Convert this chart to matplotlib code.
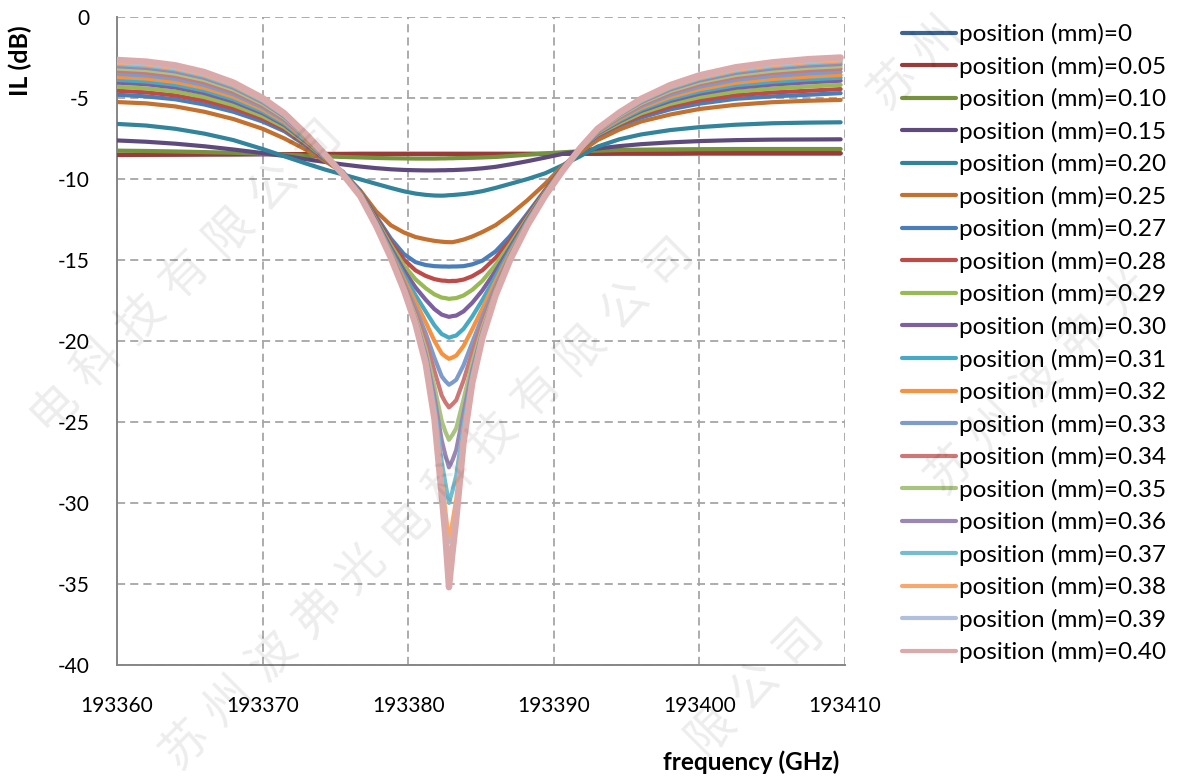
import matplotlib
matplotlib.use('Agg')
import matplotlib.pyplot as plt
from matplotlib.lines import Line2D

plt.rcParams['font.family'] = ['Lato', 'DejaVu Sans']
plt.rcParams['axes.unicode_minus'] = False

# frequency samples (GHz)
freq = [193360, 193362, 193364, 193366, 193368, 193370, 193371.5, 193373, 193374.3, 193375.5,
        193376.7, 193377.8, 193378.8, 193379.7, 193380.5, 193381.2, 193381.8, 193382.3,
        193382.55, 193382.8, 193383.05, 193383.3, 193383.8, 193384.4, 193385.1, 193386,
        193387, 193388.2, 193389.4, 193390.6, 193391.8, 193393, 193394.5, 193396, 193398,
        193400, 193402.5, 193405, 193407.5, 193409.7]

positions = ['0', '0.05', '0.10', '0.15', '0.20', '0.25', '0.27', '0.28', '0.29', '0.30',
             '0.31', '0.32', '0.33', '0.34', '0.35', '0.36', '0.37', '0.38', '0.39', '0.40']

# IL (dB), one list per position
il_000 = [-8.5, -8.5, -8.49, -8.48, -8.48, -8.47, -8.47, -8.46, -8.46, -8.46,
          -8.46, -8.46, -8.46, -8.46, -8.46, -8.46, -8.46, -8.46, -8.46, -8.46,
          -8.46, -8.46, -8.46, -8.46, -8.46, -8.46, -8.46, -8.46, -8.46, -8.45,
          -8.45, -8.45, -8.44, -8.44, -8.44, -8.43, -8.43, -8.43, -8.43, -8.43]
il_005 = [-8.52, -8.51, -8.5, -8.49, -8.48, -8.47, -8.46, -8.46, -8.45, -8.45,
          -8.44, -8.44, -8.44, -8.44, -8.44, -8.44, -8.44, -8.44, -8.44, -8.44,
          -8.44, -8.44, -8.44, -8.44, -8.44, -8.44, -8.44, -8.44, -8.44, -8.43,
          -8.42, -8.42, -8.41, -8.41, -8.41, -8.4, -8.4, -8.4, -8.4, -8.4]
il_010 = [-8.25, -8.27, -8.3, -8.34, -8.38, -8.44, -8.5, -8.56, -8.6, -8.64,
          -8.67, -8.7, -8.72, -8.73, -8.74, -8.74, -8.74, -8.73, -8.73, -8.72,
          -8.72, -8.71, -8.7, -8.69, -8.67, -8.64, -8.58, -8.5, -8.42, -8.35,
          -8.29, -8.25, -8.21, -8.19, -8.17, -8.16, -8.15, -8.15, -8.15, -8.15]
il_015 = [-7.62, -7.7, -7.82, -7.98, -8.18, -8.4, -8.58, -8.78, -8.95, -9.1,
          -9.23, -9.33, -9.4, -9.44, -9.46, -9.47, -9.47, -9.46, -9.46, -9.45,
          -9.45, -9.44, -9.42, -9.39, -9.34, -9.25, -9.1, -8.9, -8.68, -8.45,
          -8.28, -8.12, -7.97, -7.85, -7.74, -7.66, -7.6, -7.57, -7.56, -7.55]
il_020 = [-6.6, -6.7, -6.9, -7.2, -7.6, -8.15, -8.6, -9.05, -9.42, -9.72,
          -10.02, -10.3, -10.55, -10.76, -10.9, -10.98, -11.02, -11.03, -11.02, -11.0,
          -10.99, -10.97, -10.93, -10.86, -10.75, -10.55, -10.3, -10.0, -9.65, -9.15,
          -8.6, -8.0, -7.55, -7.25, -6.98, -6.8, -6.65, -6.56, -6.52, -6.5]
il_025 = [-5.25, -5.33, -5.52, -5.85, -6.3, -6.9, -7.5, -8.2, -8.9, -9.6,
          -10.7, -12.0, -12.85, -13.3, -13.58, -13.72, -13.82, -13.87, -13.89, -13.9,
          -13.9, -13.85, -13.74, -13.55, -13.27, -12.85, -12.2, -11.3, -10.3, -9.2,
          -8.35, -7.6, -6.95, -6.45, -6.02, -5.68, -5.42, -5.26, -5.17, -5.12]
il_027 = [-4.8, -4.9, -5.08, -5.4, -5.85, -6.45, -7.05, -7.95, -8.8, -9.54,
          -10.75, -12.3, -13.67, -14.63, -15.13, -15.31, -15.38, -15.4, -15.4, -15.41,
          -15.4, -15.4, -15.38, -15.27, -15.04, -14.47, -13.52, -12.12, -10.68, -9.29,
          -8.15, -7.35, -6.7, -6.2, -5.7, -5.35, -5.05, -4.9, -4.8, -4.7]
il_028 = [-4.55, -4.65, -4.84, -5.17, -5.64, -6.28, -6.92, -7.87, -8.77, -9.57,
          -10.81, -12.41, -13.87, -14.97, -15.64, -15.98, -16.18, -16.27, -16.28, -16.31,
          -16.29, -16.29, -16.21, -16.0, -15.63, -14.87, -13.77, -12.25, -10.74, -9.33,
          -8.14, -7.3, -6.65, -6.07, -5.53, -5.15, -4.83, -4.66, -4.55, -4.45]
il_029 = [-4.31, -4.41, -4.6, -4.94, -5.44, -6.12, -6.8, -7.79, -8.73, -9.59,
          -10.86, -12.52, -14.07, -15.33, -16.19, -16.74, -17.12, -17.32, -17.35, -17.4,
          -17.37, -17.35, -17.19, -16.84, -16.28, -15.3, -14.02, -12.38, -10.81, -9.37,
          -8.14, -7.25, -6.56, -5.94, -5.36, -4.95, -4.6, -4.42, -4.29, -4.19]
il_030 = [-4.05, -4.15, -4.35, -4.7, -5.22, -5.94, -6.67, -7.71, -8.7, -9.62,
          -10.9, -12.6, -14.24, -15.63, -16.69, -17.45, -18.03, -18.37, -18.44, -18.51,
          -18.46, -18.43, -18.17, -17.64, -16.87, -15.67, -14.22, -12.48, -10.86, -9.4,
          -8.13, -7.2, -6.45, -5.8, -5.18, -4.74, -4.37, -4.17, -4.03, -3.93]
il_031 = [-3.88, -3.98, -4.18, -4.54, -5.08, -5.83, -6.58, -7.65, -8.67, -9.64,
          -10.94, -12.68, -14.39, -15.92, -17.17, -18.18, -19.03, -19.57, -19.68, -19.8,
          -19.72, -19.66, -19.25, -18.49, -17.46, -16.02, -14.41, -12.57, -10.91, -9.42,
          -8.13, -7.16, -6.39, -5.71, -5.06, -4.6, -4.21, -4.0, -3.85, -3.75]
il_032 = [-3.7, -3.8, -4.01, -4.38, -4.93, -5.71, -6.49, -7.59, -8.65, -9.65,
          -10.97, -12.73, -14.51, -16.15, -17.58, -18.84, -19.99, -20.77, -20.95, -21.1,
          -21.01, -20.9, -20.31, -19.27, -17.98, -16.31, -14.56, -12.65, -10.95, -9.45,
          -8.13, -7.12, -6.32, -5.61, -4.94, -4.46, -4.06, -3.83, -3.68, -3.58]
il_033 = [-3.51, -3.61, -3.82, -4.2, -4.77, -5.58, -6.39, -7.53, -8.62, -9.67,
          -11.0, -12.79, -14.61, -16.36, -17.98, -19.51, -21.04, -22.18, -22.47, -22.7,
          -22.56, -22.39, -21.5, -20.09, -18.48, -16.57, -14.7, -12.71, -10.98, -9.46,
          -8.12, -7.08, -6.24, -5.51, -4.8, -4.3, -3.88, -3.64, -3.48, -3.38]
il_034 = [-3.33, -3.43, -3.64, -4.03, -4.62, -5.46, -6.3, -7.47, -8.6, -9.68,
          -11.01, -12.82, -14.68, -16.5, -18.24, -19.98, -21.84, -23.36, -23.78, -24.1,
          -23.89, -23.65, -22.44, -20.68, -18.83, -16.75, -14.79, -12.75, -11.0, -9.47,
          -8.12, -7.04, -6.17, -5.41, -4.67, -4.15, -3.71, -3.46, -3.29, -3.19]
il_035 = [-3.18, -3.28, -3.5, -3.89, -4.49, -5.36, -6.22, -7.42, -8.57, -9.69,
          -11.03, -12.85, -14.75, -16.64, -18.51, -20.5, -22.8, -24.93, -25.59, -26.1,
          -25.78, -25.38, -23.61, -21.35, -19.19, -16.92, -14.87, -12.79, -11.02, -9.48,
          -8.11, -7.01, -6.11, -5.33, -4.57, -4.03, -3.58, -3.32, -3.14, -3.04]
il_036 = [-3.04, -3.14, -3.36, -3.76, -4.37, -5.26, -6.15, -7.38, -8.55, -9.69,
          -11.04, -12.87, -14.79, -16.71, -18.67, -20.81, -23.44, -26.13, -27.03, -27.8,
          -27.33, -26.72, -24.42, -21.77, -19.4, -17.02, -14.92, -12.81, -11.03, -9.49,
          -8.11, -6.98, -6.05, -5.26, -4.47, -3.92, -3.45, -3.18, -3.0, -2.9]
il_037 = [-2.91, -3.01, -3.23, -3.64, -4.27, -5.17, -6.08, -7.33, -8.54, -9.69,
          -11.04, -12.88, -14.82, -16.78, -18.8, -21.08, -24.05, -27.45, -28.76, -30.0,
          -29.21, -28.3, -25.24, -22.15, -19.59, -17.11, -14.96, -12.83, -11.04, -9.49,
          -8.11, -6.95, -6.0, -5.19, -4.38, -3.81, -3.33, -3.05, -2.86, -2.76]
il_038 = [-2.83, -2.93, -3.16, -3.57, -4.2, -5.12, -6.04, -7.31, -8.53, -9.7,
          -11.05, -12.89, -14.84, -16.82, -18.89, -21.28, -24.49, -28.57, -30.46, -32.4,
          -31.13, -29.75, -25.85, -22.42, -19.72, -17.16, -14.98, -12.84, -11.05, -9.5,
          -8.1, -6.94, -5.97, -5.15, -4.33, -3.75, -3.27, -2.98, -2.79, -2.69]
il_039 = [-2.76, -2.86, -3.09, -3.5, -4.14, -5.07, -6.0, -7.29, -8.52, -9.7,
          -11.05, -12.9, -14.85, -16.84, -18.92, -21.35, -24.67, -29.14, -31.31, -33.9,
          -32.15, -30.46, -26.13, -22.53, -19.77, -17.18, -15.0, -12.85, -11.05, -9.5,
          -8.1, -6.92, -5.94, -5.11, -4.28, -3.69, -3.2, -2.91, -2.71, -2.61]
il_040 = [-2.65, -2.75, -2.98, -3.4, -4.05, -5.0, -5.95, -7.25, -8.5, -9.7,
          -11.05, -12.9, -14.85, -16.85, -18.95, -21.4, -24.8, -29.5, -32.0, -35.2,
          -33.0, -31.0, -26.3, -22.6, -19.8, -17.2, -15.0, -12.85, -11.05, -9.5,
          -8.1, -6.9, -5.9, -5.05, -4.2, -3.6, -3.1, -2.8, -2.6, -2.5]

series = [il_000, il_005, il_010, il_015, il_020, il_025, il_027, il_028, il_029, il_030,
          il_031, il_032, il_033, il_034, il_035, il_036, il_037, il_038, il_039, il_040]

x_ticks = [193360, 193370, 193380, 193390, 193400, 193410]
y_ticks = [0, -5, -10, -15, -20, -25, -30, -35, -40]

colors = ['#3D6494', '#9C3A37', '#76923C', '#5F4A7E', '#31849B', '#C4702E',
          '#4A7EBB', '#BE4B48', '#98B954', '#7D60A0', '#46AAC5', '#F69240',
          '#7E9CCB', '#CD7876', '#A9C47F', '#9A87B5', '#74BCD0', '#F8A86C',
          '#B0C0DC', '#D9AAA9']

W, H = 1180, 780
fig = plt.figure(figsize=(W / 100, H / 100), dpi=100)
ax = fig.add_axes([117 / W, 1 - 665 / H, (845 - 117) / W, (665 - 17) / H])

for i, (vals, c) in enumerate(zip(series, colors)):
    lw = 4.6 if i == len(series) - 1 else 3.0
    ax.plot(freq, vals, color=c, lw=lw, solid_capstyle='round',
            solid_joinstyle='round', zorder=3 + i * 0.01)

ax.set_xlim(193360, 193410)
ax.set_ylim(-40, 0)
ax.set_xticks(x_ticks)
ax.set_xticklabels([str(t) for t in x_ticks])
ax.set_yticks(y_ticks)
ax.set_yticklabels([str(t) for t in y_ticks])
ax.tick_params(axis='both', length=0, labelsize=15, colors='#000000')
ax.tick_params(axis='y', pad=20)
ax.tick_params(axis='x', pad=22)

ax.grid(True, color='#A6A6A6', linestyle=(0, (4.5, 2.8)), linewidth=1.3)
ax.set_axisbelow(True)
for s in ['top', 'right']:
    ax.spines[s].set_visible(False)
for s in ['left', 'bottom']:
    ax.spines[s].set_color('#868686')
    ax.spines[s].set_linewidth(1.4)

fig.text(20 / W, 1 - 61 / H, 'IL (dB)', rotation=90, ha='center', va='center',
         fontsize=18, fontweight='bold')
fig.text(751 / W, 1 - 762 / H, 'frequency (GHz)', ha='center', va='center',
         fontsize=17.5, fontweight='bold')

handles = [Line2D([0], [0], color=c, lw=3.0, solid_capstyle='round') for c in colors]
labels = ['position (mm)=' + p for p in positions]
fig.legend(handles, labels, loc='upper left', bbox_to_anchor=(902 / W, 1 - 23 / H),
           frameon=False, fontsize=17.5, handlelength=2.22, handletextpad=0.12,
           labelspacing=0.43, borderpad=0, borderaxespad=0)

# faint diagonal watermark
mark = '苏州波弗光电科技有限公司'
starts = [(-167, 627), (185, 745), (315, 1126), (950, 470), (893, 85)]
for sx, sy in starts:
    for k, ch in enumerate(mark):
        px, py = sx + 44 * k, sy - 44 * k
        if 25 < px < W - 25 and 25 < py < H - 25:
            fig.text(px / W, 1 - py / H, ch, rotation=45, ha='center', va='center',
                     fontsize=34, color='black', alpha=0.075,
                     family=['Noto Sans CJK SC', 'DejaVu Sans'], zorder=10)

fig.savefig('out.png', dpi=100)
